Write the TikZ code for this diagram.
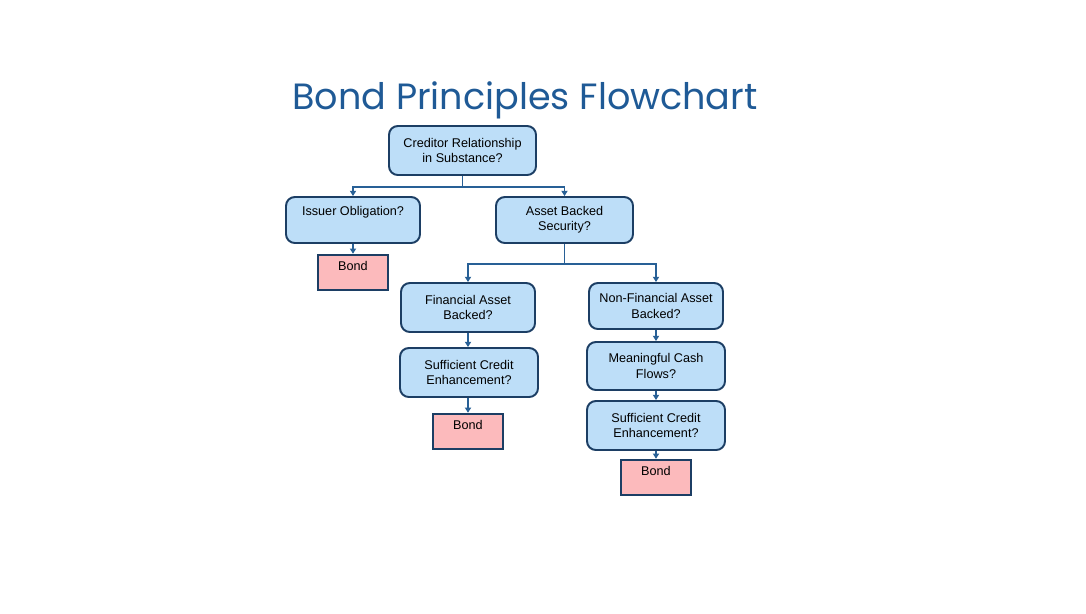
\documentclass[tikz,border=0pt]{standalone}
\usepackage{fontspec}
\setmainfont{Liberation Sans}
\newfontfamily\titlefont{Poppins}
\usetikzlibrary{arrows.meta,positioning}
\definecolor{bondblue}{RGB}{31,90,150}
\definecolor{boxfill}{RGB}{189,222,248}
\definecolor{boxline}{RGB}{28,62,100}
\definecolor{bondpink}{RGB}{252,186,188}
\definecolor{linkblue}{RGB}{40,96,150}

\begin{document}
\begin{tikzpicture}[
  question/.style={draw=boxline, line width=1.1pt, fill=boxfill, rounded corners=5pt,
    align=center, font=\fontsize{7.2}{8.6}\selectfont, inner sep=2pt},
  bondbox/.style={draw=boxline, line width=1.4pt, fill=bondpink, minimum width=1.4cm,
    text height=0.25cm, text depth=0.35cm, inner ysep=0.05cm,
    font=\fontsize{7.2}{8.6}\selectfont},
  link/.style={draw=linkblue, line width=0.8pt, -{Triangle[width=3.5pt,length=3pt]}}
]
% Page frame
\useasboundingbox (0,0) rectangle (21.72,-12.26);

% Title
\node[font=\titlefont\fontsize{20.8}{25}\selectfont, text=bondblue, anchor=base] (title) at (10.5,-2.18) {Bond Principles Flowchart};

% Top question and first split
\node[question, minimum width=2.94cm, minimum height=0.98cm] (creditor) at (9.25,-3.01) {Creditor Relationship\\in Substance?};
\node[question, minimum width=2.68cm, minimum height=0.92cm] (issuer) at (7.06,-4.40) {Issuer Obligation?\\[0.3em]};
\node[question, minimum width=2.74cm, minimum height=0.92cm] (asset) at (11.29,-4.40) {Asset Backed\\Security?};
\node[bondbox] (bondA) at (7.06,-5.45) {Bond};

% Financial branch
\node[question, minimum width=2.68cm, minimum height=0.98cm] (financial) at (9.36,-6.15) {Financial Asset\\Backed?};
\node[question, minimum width=2.76cm, minimum height=0.98cm] (creditA) at (9.38,-7.45) {Sufficient Credit\\Enhancement?};
\node[bondbox] (bondB) at (9.36,-8.63) {Bond};

% Non-financial branch
\node[question, minimum width=2.68cm, minimum height=0.92cm] (nonfin) at (13.12,-6.12) {Non-Financial Asset\\Backed?};
\node[question, minimum width=2.76cm, minimum height=0.96cm] (cashflow) at (13.12,-7.32) {Meaningful Cash\\Flows?};
\node[question, minimum width=2.76cm, minimum height=0.98cm] (creditB) at (13.12,-8.51) {Sufficient Credit\\Enhancement?};
\node[bondbox] (bondC) at (13.12,-9.55) {Bond};

% Connectors
\draw[link] (creditor.south) -- ++(0,-0.22) -| (issuer.north);
\draw[link] (creditor.south) -- ++(0,-0.22) -| (asset.north);
\draw[link] (issuer.south) -- (bondA.north);
\draw[link] (asset.south) -- ++(0,-0.40) -| (financial.north);
\draw[link] (asset.south) -- ++(0,-0.40) -| (nonfin.north);
\draw[link] (financial.south) -- (creditA.north -| financial.south);
\draw[link] (creditA.south -| bondB.north) -- (bondB.north);
\draw[link] (nonfin.south) -- (cashflow.north);
\draw[link] (cashflow.south) -- (creditB.north);
\draw[link] (creditB.south) -- (bondC.north);
\end{tikzpicture}
\end{document}
